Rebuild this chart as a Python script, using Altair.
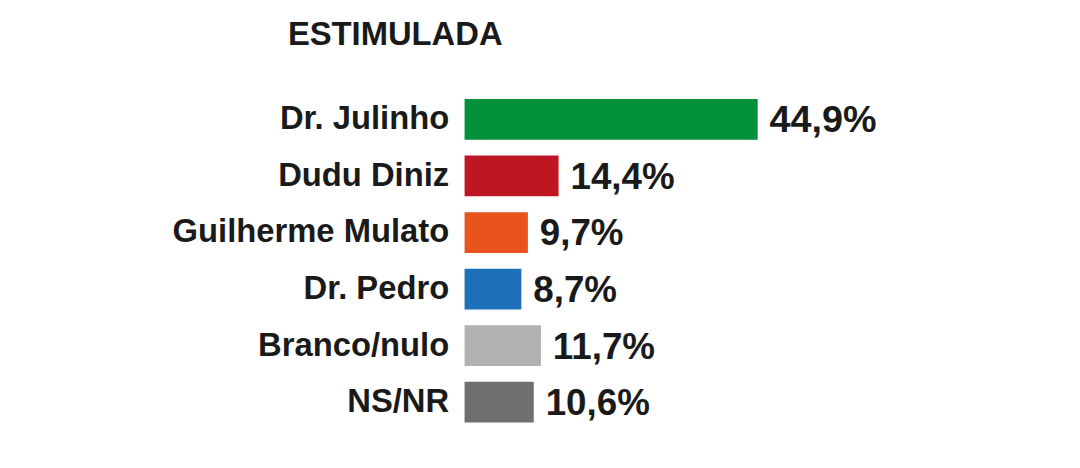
import altair as alt
import pandas as pd

candidates = ["Dr. Julinho", "Dudu Diniz", "Guilherme Mulato", "Dr. Pedro", "Branco/nulo", "NS/NR"]
values = [44.9, 14.4, 9.7, 8.7, 11.7, 10.6]
labels = ["44,9%", "14,4%", "9,7%", "8,7%", "11,7%", "10,6%"]
colors = ["#00913A", "#BE1622", "#E9531D", "#1E70B8", "#B2B2B2", "#6F6F6F"]
title_text = "ESTIMULADA"

df = pd.DataFrame({"cand": candidates, "val": values, "lab": labels})

FONT = "Liberation Sans"

y = alt.Y("cand:N", sort=candidates, title=None,
          scale=alt.Scale(paddingInner=0.28, paddingOuter=0.14),
          axis=alt.Axis(domain=False, ticks=False, labelPadding=16,
                        labelFont=FONT, labelFontSize=33, labelFontWeight="bold",
                        labelColor="#1a1a1a", labelLimit=400))
x = alt.X("val:Q", title=None, scale=alt.Scale(domain=[0, 90]), axis=None)

bars = alt.Chart(df).mark_bar().encode(
    x=x, y=y,
    color=alt.Color("cand:N", scale=alt.Scale(domain=candidates, range=colors), legend=None),
)

text = alt.Chart(df).mark_text(
    align="left", baseline="middle", dx=12, dy=2,
    font=FONT, fontWeight="bold", color="#1a1a1a",
).encode(
    x=x, y=y, text="lab:N",
    size=alt.condition(alt.datum.cand == "Dr. Julinho", alt.value(38), alt.value(37)),
)

title = alt.Chart(pd.DataFrame({"t": [title_text]})).mark_text(
    align="left", baseline="alphabetic",
    font=FONT, fontWeight="bold", fontSize=33, color="#1a1a1a",
).encode(x=alt.value(-178), y=alt.value(-46), text="t:N")

chart = (bars + text + title).properties(
    width=592, height=342,
    autosize=alt.AutoSizeParams(type="none"),
    padding={"left": 460, "top": 82, "right": 20, "bottom": 28},
    background="white",
).configure_view(strokeWidth=0, stroke="transparent")

chart.save("out.html", embed_options={"renderer": "svg", "actions": False})
